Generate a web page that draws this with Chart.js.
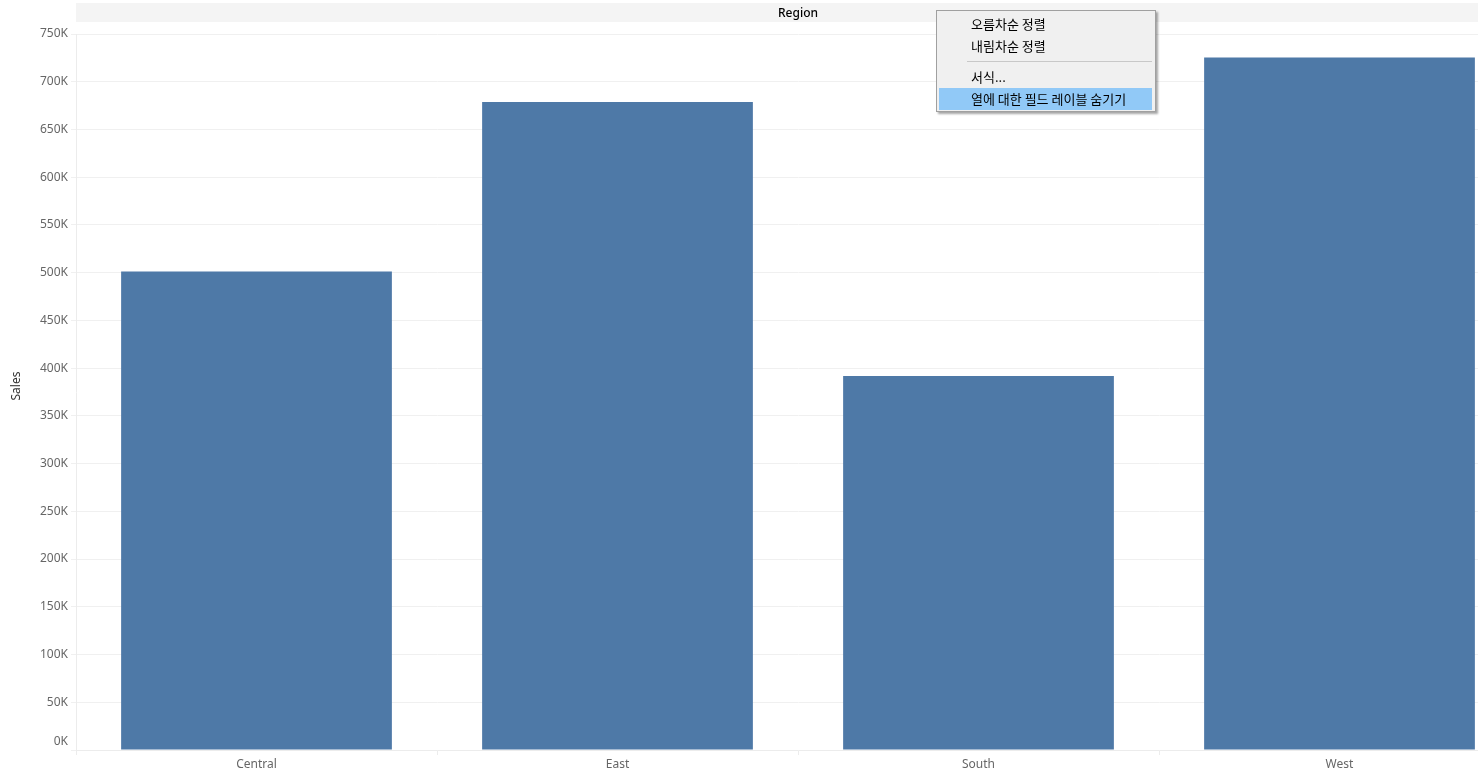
<!DOCTYPE html>
<html>
<head>
<meta charset="utf-8">
<script src="https://cdn.jsdelivr.net/npm/chart.js@4"></script>
<style>
  html, body { margin: 0; padding: 0; background: #fff; overflow: hidden; }
  #wrap { position: relative; width: 1520px; height: 774px; }
  #menu {
    position: absolute; left: 936px; top: 10px; width: 218px; height: 100px;
    background: #f0f0f0; border: 1px solid #a0a0a0;
    box-shadow: 2px 2px 2px rgba(0,0,0,0.35);
    font-family: "Noto Sans CJK KR", "Noto Sans", sans-serif; font-size: 13px; color: #000;
  }
  #menu .item { position: absolute; left: 2px; width: 213px; height: 22px; line-height: 22px; padding-left: 32px; box-sizing: border-box; }
  #menu .sep { position: absolute; left: 30px; width: 185px; top: 50px; height: 1px; background: #c8c8c8; }
  #menu .hl { background: #91c9f7; }
</style>
</head>
<body>
<div id="wrap">
  <canvas id="c" width="1520" height="774"></canvas>
  <div id="menu"></div>
</div>
<script>
// Sales by region
const regions = ["Central", "East", "South", "West"];
const sales = [501240, 678781, 391722, 725458];
const yTicks = [0, 50000, 100000, 150000, 200000, 250000, 300000, 350000, 400000, 450000, 500000, 550000, 600000, 650000, 700000, 750000];
const headerTitle = "Region";
const axisTitle = "Sales";
const menuItems = ["오름차순 정렬", "내림차순 정렬", "", "서식...", "열에 대한 필드 레이블 숨기기"];

// context menu
const menu = document.getElementById("menu");
const tops = [2, 24, null, 55, 77];
menuItems.forEach((t, i) => {
  if (i === 2) { const s = document.createElement("div"); s.className = "sep"; menu.appendChild(s); return; }
  const d = document.createElement("div");
  d.className = "item" + (i === 4 ? " hl" : "");
  d.style.top = tops[i] + "px";
  d.textContent = t;
  menu.appendChild(d);
});

const font = "'Noto Sans', sans-serif";
const tickColor = "#666";
const fmtK = v => (v / 1000) + "K";

// column header band above the plot, axis title and the raised zero label
const decorations = {
  id: "decorations",
  beforeDraw(chart) {
    const { ctx, chartArea } = chart;
    ctx.save();
    ctx.fillStyle = "#f4f4f4";
    ctx.fillRect(chartArea.left, 3, chart.width - chartArea.left, 19);
    ctx.fillStyle = "#000";
    ctx.font = "500 12px " + font;
    ctx.textAlign = "center";
    ctx.textBaseline = "middle";
    ctx.fillText(headerTitle, (chartArea.left + chartArea.right) / 2, 14);
    ctx.restore();
  },
  afterDraw(chart) {
    const { ctx } = chart;
    const y = chart.scales.y;
    ctx.save();
    ctx.font = "12px " + font;
    ctx.fillStyle = tickColor;
    ctx.textAlign = "right";
    ctx.textBaseline = "middle";
    ctx.fillText(fmtK(yTicks[0]), y.right - 8, y.getPixelForValue(yTicks[0]) - 8);
    ctx.translate(17, 386);
    ctx.rotate(-Math.PI / 2);
    ctx.textAlign = "center";
    ctx.fillStyle = "#333";
    ctx.fillText(axisTitle, 0, 0);
    ctx.restore();
  }
};

new Chart(document.getElementById("c"), {
  type: "bar",
  data: {
    labels: regions,
    datasets: [{
      data: sales,
      backgroundColor: "#4e79a7",
      borderWidth: 0,
      barPercentage: 0.75,
      categoryPercentage: 1.0
    }]
  },
  options: {
    responsive: false,
    animation: false,
    layout: { padding: { top: 34, right: 0, bottom: 0, left: 0 } },
    plugins: { legend: { display: false }, tooltip: { enabled: false } },
    scales: {
      x: {
        grid: { drawOnChartArea: false, drawTicks: true, tickLength: 5, color: "#ececec", offset: true },
        border: { display: true, color: "#ececec" },
        ticks: { color: tickColor, font: { family: font, size: 12 }, padding: 2 },
        afterFit(s) { s.height = 24; }
      },
      y: {
        min: 0, max: 750000,
        afterBuildTicks(s) { s.ticks = yTicks.map(v => ({ value: v })); },
        grid: { color: "#f0f0f0", tickLength: 5, drawTicks: true },
        border: { display: true, color: "#ececec" },
        ticks: {
          color: tickColor, font: { family: font, size: 12 }, padding: 3,
          callback: v => (v === yTicks[0] ? "" : fmtK(v))
        },
        afterFit(s) { s.width = 76; }
      }
    }
  },
  plugins: [decorations]
});
</script>
</body>
</html>
